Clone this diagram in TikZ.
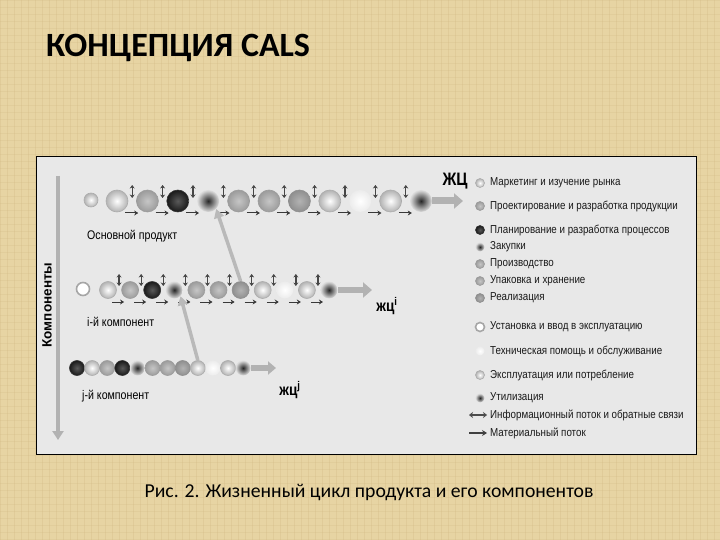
\documentclass[tikz,border=0pt]{standalone}
\usepackage{fontspec}
\setmainfont{Carlito}
\newfontfamily\narrowf[FakeStretch=0.85]{Liberation Sans}
\newfontfamily\plainsans{Liberation Sans}
\usetikzlibrary{arrows.meta,calc,backgrounds}
\definecolor{paper}{RGB}{231,212,163}
\definecolor{paperline}{RGB}{205,180,125}
\definecolor{panel}{RGB}{232,232,232}
\tikzset{
  ballbase/.style={circle,inner sep=0pt,line width=0.6pt},
  light/.style={ballbase,inner color=white,outer color=gray!60,draw=gray!65},
  mid/.style={ballbase,inner color=gray!45,outer color=gray!78,draw=gray!78},
  dmid/.style={ballbase,inner color=gray!60,outer color=gray!88,draw=gray!88},
  dark/.style={ballbase,inner color=gray!70!black,outer color=black!90,draw=black!80},
  fuzzy/.style={ballbase,inner color=black!85,outer color=gray!25},
  faint/.style={ballbase,inner color=white,outer color=gray!15},
  ring/.style={ballbase,fill=white,draw=gray!70,line width=1.6pt},
  tube/.style={line width=6pt,draw=gray!40},
  infoarr/.style={{Stealth[length=3.5pt,width=5pt]}-{Stealth[length=3.5pt,width=5pt]},line width=1.3pt,draw=gray!55!black},
  matarr/.style={-{Stealth[length=4pt,width=5pt]},line width=1pt,draw=gray!45!black},
  rowarr/.style={-{Triangle[length=9pt,width=15pt]},line width=7pt,draw=gray!60},
  pointer/.style={-{Triangle[length=9pt,width=10pt]},line width=3.5pt,draw=gray!55},
  rowlabel/.style={font=\narrowf\fontsize{12.5}{14}\selectfont,anchor=west,inner sep=0pt},
  jclabel/.style={font=\narrowf\bfseries\fontsize{18}{20}\selectfont,inner sep=0pt},
  legtext/.style={font=\narrowf\fontsize{11.5}{13}\selectfont,anchor=west,inner sep=0pt,text=black!90},
}
\begin{document}
\begin{tikzpicture}[x=1pt,y=-1pt]
\useasboundingbox (0,0) rectangle (720,540);
% background paper
\fill[paper] (0,0) rectangle (720,540);
\foreach \x in {0,7,...,720} \draw[paperline,opacity=0.25,line width=0.5pt] (\x,0) -- (\x,540);
\foreach \y in {0,7,...,540} \draw[paperline,opacity=0.2,line width=0.5pt] (0,\y) -- (720,\y);
% title
\node[anchor=base west,inner sep=0pt,font=\bfseries\fontsize{34}{38}\selectfont] (title) at (46,57) {КОНЦЕПЦИЯ CALS};
% panel
\node[draw=black,line width=1.8pt,fill=panel,minimum width=660pt,minimum height=298pt,inner sep=0pt] (panel) at (366.5,305.5) {};
% caption
\node[font=\fontsize{19.7}{22}\selectfont,inner sep=0pt] (caption) at (369,492) {Рис. 2. Жизненный цикл продукта и его компонентов};

% axis
\coordinate (axtop) at (58,176);
\coordinate (axbot) at (58,440);
\draw[-{Triangle[length=9pt,width=11pt]},line width=4pt,draw=gray!60] (axtop) -- (axbot);
\node[rotate=90,font=\plainsans\bfseries\fontsize{13.5}{15}\selectfont,inner sep=0pt] (axlabel) at (47,305) {Компоненты};

% ===== main row =====
\node[light,minimum size=14pt] (m0) at (91,200) {};
\foreach \s [count=\k] in {light,mid,dark,fuzzy,mid,mid,dmid,light,faint,light,fuzzy}
  \node[\s,minimum size=22pt] (m\k) at ({117+(\k-1)*30.4},201) {};
\begin{scope}[on background layer]
  \draw[tube] (m0) -- (m11);
\end{scope}
\foreach \k [evaluate=\k as \n using int(\k+1)] in {1,...,10} {
  \coordinate (mc\k) at ($(m\k)!0.5!(m\n)$);
  \draw[infoarr] ($(mc\k)+(0,-16)$) -- ($(mc\k)+(0,-3)$);
  \draw[matarr] ($(mc\k)+(-7,12)$) -- ($(mc\k)+(6,12)$);
}
\coordinate (mend) at (463,201);
\draw[rowarr] (m11.east) -- (mend);
\node[jclabel] (jc0) at (455,181) {ЖЦ};
\node[rowlabel] (lab0) at (87,236) {Основной продукт};

% ===== row i =====
\node[ring,minimum size=13pt] (r0) at (83,289) {};
\foreach \s [count=\k] in {light,mid,dark,fuzzy,mid,mid,dmid,light,faint,light,fuzzy}
  \node[\s,minimum size=17pt] (r\k) at ({108+(\k-1)*22.1},290) {};
\begin{scope}[on background layer]
  \draw[tube,line width=5pt] (r0) -- (r11);
\end{scope}
\foreach \k [evaluate=\k as \n using int(\k+1)] in {1,...,10} {
  \coordinate (rc\k) at ($(r\k)!0.5!(r\n)$);
  \draw[infoarr] ($(rc\k)+(0,-16)$) -- ($(rc\k)+(0,-4)$);
  \draw[matarr] ($(rc\k)+(-7,12)$) -- ($(rc\k)+(5,12)$);
}
\coordinate (rend) at (372,290);
\draw[rowarr,line width=6pt] (r11.east) -- (rend);
\node[jclabel,font=\narrowf\bfseries\fontsize{16}{18}\selectfont] (jc1) at (387,306) {жц\textsuperscript{i}};
\node[rowlabel] (lab1) at (87,322) {i-й компонент};

% ===== row j =====
\foreach \s [count=\k] in {dark,light,mid,dark,fuzzy,mid,mid,dmid,light,faint,light,fuzzy}
  \node[\s,minimum size=15pt] (j\k) at ({77+(\k-1)*15.1},368) {};
\coordinate (jend) at (276,368);
\draw[rowarr,line width=6pt,-{Triangle[length=8pt,width=13pt]}] (j12.east) -- (jend);
\node[jclabel,font=\narrowf\bfseries\fontsize{16}{18}\selectfont] (jc2) at (290,390) {жц\textsuperscript{j}};
\node[rowlabel] (lab2) at (82,396) {j-й компонент};

% pointers
\draw[pointer] (r7.north) -- (m4.south east);
\draw[pointer] (j9.north) -- (r4.south east);

% ===== legend =====
\foreach \s/\t/\y [count=\i] in {
  light/Маркетинг и изучение рынка/183,
  mid/Проектирование и разработка продукции/206,
  dark/Планирование и разработка процессов/230,
  fuzzy/Закупки/247,
  mid/Производство/264,
  mid/Упаковка и хранение/281,
  dmid/Реализация/298,
  ring/Установка и ввод в эксплуатацию/327,
  faint/Техническая помощь и обслуживание/351,
  light/Эксплуатация или потребление/375,
  fuzzy/Утилизация/398} {
  \node[\s,minimum size=9pt] (lb\i) at (480,\y) {};
  \node[legtext] (lt\i) at (490,\y) {\t};
}
\coordinate (lia) at (469,415);
\coordinate (lib) at (487,415);
\draw[{Stealth[length=4pt,width=6pt]}-{Stealth[length=4pt,width=6pt]},line width=1.6pt,draw=gray!60!black] (lia) -- (lib);
\node[legtext] (lt12) at (490,415) {Информационный поток и обратные связи};
\coordinate (lma) at (469,433);
\coordinate (lmb) at (487,433);
\draw[-{Stealth[length=5pt,width=6pt]},line width=1.2pt,draw=gray!50!black] (lma) -- (lmb);
\node[legtext] (lt13) at (490,433) {Материальный поток};
\end{tikzpicture}
\end{document}
